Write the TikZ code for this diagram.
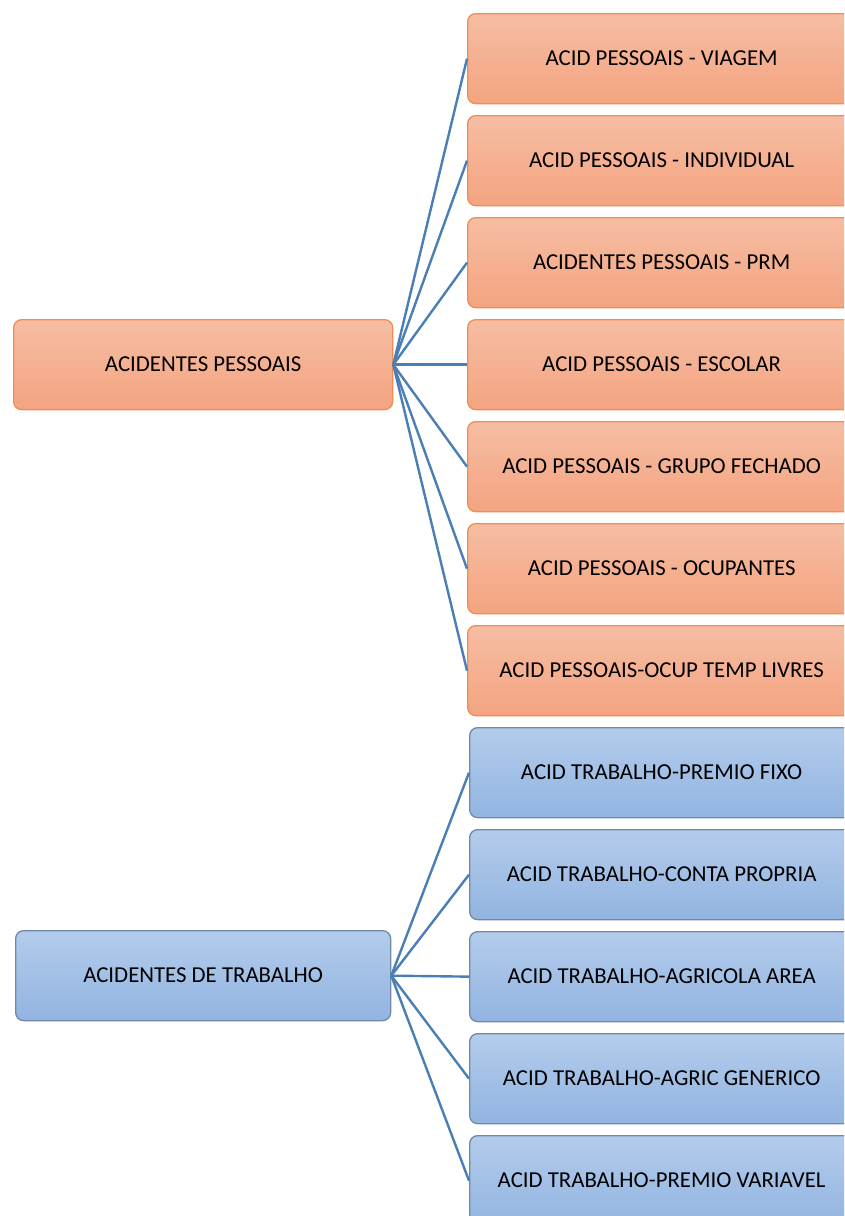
\documentclass[tikz,border=0pt]{standalone}
\usepackage{fontspec}
\setmainfont{Carlito}
\definecolor{otop}{HTML}{F6BDA3}
\definecolor{obot}{HTML}{F4A480}
\definecolor{oedge}{HTML}{EF8F55}
\definecolor{btop}{HTML}{B3CCEB}
\definecolor{bbot}{HTML}{92B4E1}
\definecolor{bedge}{HTML}{7189A8}
\definecolor{link}{HTML}{4A7EB5}
\tikzset{
  box/.style={rectangle, rounded corners=8pt, line width=1.3pt, anchor=north west,
    minimum height=90pt, inner sep=0pt, font=\fontsize{22.8}{26}\selectfont, text=black},
  obox/.style={box, draw=oedge, top color=otop, bottom color=obot},
  bbox/.style={box, draw=bedge, top color=btop, bottom color=bbot},
  link/.style={draw=link, line width=2.4pt}
}
\begin{document}
\begin{tikzpicture}[x=1pt,y=-1pt]
\useasboundingbox (0,0) rectangle (844,1216);
\clip (0,0) rectangle (844,1216);
% roots
\node[obox, minimum width=379pt] (ap) at (13,319) {ACIDENTES PESSOAIS};
\node[bbox, minimum width=375pt] (at) at (15,930) {ACIDENTES DE TRABALHO};
% personal accident products
\node[obox, minimum width=388pt] (p1) at (467,13)  {ACID PESSOAIS - VIAGEM};
\node[obox, minimum width=388pt] (p2) at (467,115) {ACID PESSOAIS - INDIVIDUAL};
\node[obox, minimum width=388pt] (p3) at (467,217) {ACIDENTES PESSOAIS - PRM};
\node[obox, minimum width=388pt] (p4) at (467,319) {ACID PESSOAIS - ESCOLAR};
\node[obox, minimum width=388pt] (p5) at (467,421) {ACID PESSOAIS - GRUPO FECHADO};
\node[obox, minimum width=388pt] (p6) at (467,523) {ACID PESSOAIS - OCUPANTES};
\node[obox, minimum width=388pt] (p7) at (467,625) {ACID PESSOAIS-OCUP TEMP LIVRES};
% work accident products
\node[bbox, minimum width=384pt] (t1) at (469,727)  {ACID TRABALHO-PREMIO FIXO};
\node[bbox, minimum width=384pt] (t2) at (469,829)  {ACID TRABALHO-CONTA PROPRIA};
\node[bbox, minimum width=384pt] (t3) at (469,931)  {ACID TRABALHO-AGRICOLA AREA};
\node[bbox, minimum width=384pt] (t4) at (469,1033) {ACID TRABALHO-AGRIC GENERICO};
\node[bbox, minimum width=384pt] (t5) at (469,1135) {ACID TRABALHO-PREMIO VARIAVEL};
% connectors
\foreach \n in {p1,p2,p3,p4,p5,p6,p7} \draw[link] (ap.east) -- (\n.west);
\foreach \n in {t1,t2,t3,t4,t5} \draw[link] (at.east) -- (\n.west);
\end{tikzpicture}
\end{document}
